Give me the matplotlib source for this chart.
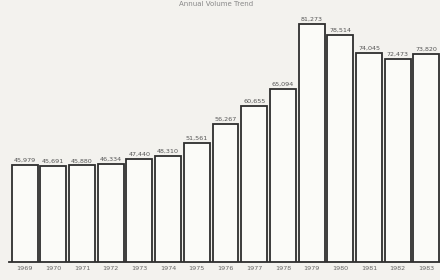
import matplotlib
matplotlib.use("Agg")
import matplotlib.pyplot as plt

# datos (aprox.)
years = ["1969", "1970", "1971", "1972", "1973", "1974", "1975", "1976",
         "1977", "1978", "1979", "1980", "1981", "1982", "1983"]
values = [45979, 45691, 45880, 46334, 47440, 48310, 51561, 56267,
          60655, 65094, 81273, 78514, 74045, 72473, 73820]
title = "Annual Volume Trend"

fig = plt.figure(figsize=(4.4, 2.8), dpi=100, facecolor="#f3f2ee")
ax = fig.add_axes([0.02, 0.064, 0.985, 0.90])
ax.set_facecolor("#f3f2ee")

x = range(len(values))
ax.bar(x, values, width=0.9, color="#fbfbf8", edgecolor="#2e2e2e",
       linewidth=1.3)
for xi, v in zip(x, values):
    ax.text(xi, v + 500, f"{v:,}", ha="center", va="bottom",
            fontsize=4.6, color="#555555")

ax.set_xlim(-0.55, 14.55)
ax.set_ylim(21700, 84700)
ax.set_xticks(list(x))
ax.set_xticklabels(years, fontsize=4.6, color="#666666")
ax.tick_params(axis="x", length=0, pad=3)
ax.set_yticks([])
for s in ["left", "right", "top"]:
    ax.spines[s].set_visible(False)
ax.spines["bottom"].set_color("#2e2e2e")
ax.spines["bottom"].set_linewidth(1.3)

fig.text(0.49, 0.997, title, ha="center", va="top", fontsize=5,
         color="#888888")

fig.savefig("out.png", dpi=100, facecolor=fig.get_facecolor())
